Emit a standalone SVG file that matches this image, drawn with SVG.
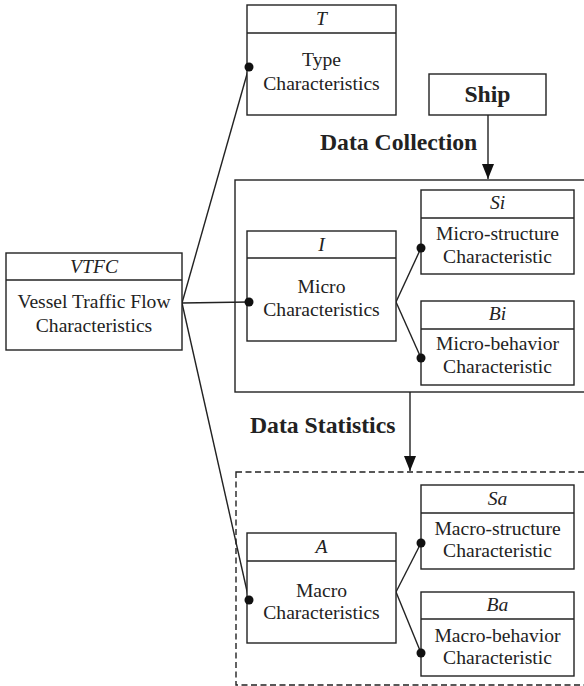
<svg xmlns="http://www.w3.org/2000/svg" width="584" height="686" viewBox="0 0 584 686">
<defs>
<style>
.box{fill:#fff;stroke:#222;stroke-width:1.4}
.ln{fill:none;stroke:#222;stroke-width:1.4}
.t{font-size:19.6px;fill:#222;text-anchor:middle}
.i{font-style:italic}
.b{font-size:23.7px;font-weight:bold;fill:#222}
.dot{fill:#111}
</style>
<marker id="arr" markerWidth="16" markerHeight="12" refX="15" refY="6" orient="auto" markerUnits="userSpaceOnUse" viewBox="0 0 16 12">
<path d="M0,0 L15,6 L0,12 Z" fill="#111"/>
</marker>
</defs>
<rect width="584" height="686" fill="#fff"/>

<g id="group-micro"><rect x="235" y="180" width="360" height="212" class="box"/></g>
<g id="group-macro"><rect x="236" y="472" width="360" height="213" class="box" stroke-dasharray="6 3.5"/></g>

<g id="connectors">
<line x1="182" y1="303" x2="249" y2="67" class="ln"/>
<line x1="182" y1="303" x2="249" y2="302" class="ln"/>
<line x1="182" y1="303" x2="249" y2="600" class="ln"/>
<line x1="396" y1="302" x2="421" y2="248" class="ln"/>
<line x1="396" y1="302" x2="421" y2="358" class="ln"/>
<line x1="396" y1="592" x2="421" y2="543" class="ln"/>
<line x1="396" y1="592" x2="421" y2="653" class="ln"/>
<line x1="488" y1="115" x2="488" y2="179" class="ln" marker-end="url(#arr)"/>
<line x1="410" y1="392" x2="410" y2="471" class="ln" marker-end="url(#arr)"/>
</g>

<g font-family="'Liberation Serif', 'DejaVu Serif', serif">
<g id="vtfc">
<rect x="6" y="253" width="176" height="97" class="box"/>
<line x1="6" y1="280" x2="182" y2="280" class="ln"/>
<text x="94" y="273" class="t i">VTFC</text>
<text x="94" y="308" class="t">Vessel Traffic Flow</text>
<text x="94" y="332" class="t">Characteristics</text>
</g>

<g id="type">
<rect x="247" y="5" width="149" height="110" class="box"/>
<line x1="247" y1="33" x2="396" y2="33" class="ln"/>
<text x="321.5" y="25" class="t i">T</text>
<text x="321.5" y="66" class="t">Type</text>
<text x="321.5" y="90" class="t">Characteristics</text>
</g>

<g id="ship">
<rect x="429" y="74" width="117" height="41" class="box"/>
<text x="487.5" y="102" class="b" text-anchor="middle">Ship</text>
</g>

<g id="labels">
<text x="320" y="150" class="b">Data Collection</text>
<text x="250" y="433" class="b">Data Statistics</text>
</g>

<g id="micro">
<rect x="247" y="231" width="149" height="110" class="box"/>
<line x1="247" y1="258" x2="396" y2="258" class="ln"/>
<text x="321.5" y="251" class="t i">I</text>
<text x="321.5" y="293" class="t">Micro</text>
<text x="321.5" y="316" class="t">Characteristics</text>
</g>

<g id="si">
<rect x="421" y="190" width="153" height="84" class="box"/>
<line x1="421" y1="218" x2="574" y2="218" class="ln"/>
<text x="497.5" y="209" class="t i">Si</text>
<text x="497.5" y="240" class="t">Micro-structure</text>
<text x="497.5" y="263" class="t">Characteristic</text>
</g>

<g id="bi">
<rect x="421" y="301" width="153" height="84" class="box"/>
<line x1="421" y1="329" x2="574" y2="329" class="ln"/>
<text x="497.5" y="320" class="t i">Bi</text>
<text x="497.5" y="350" class="t">Micro-behavior</text>
<text x="497.5" y="373" class="t">Characteristic</text>
</g>

<g id="macro">
<rect x="247" y="533" width="149" height="110" class="box"/>
<line x1="247" y1="561" x2="396" y2="561" class="ln"/>
<text x="321.5" y="553" class="t i">A</text>
<text x="321.5" y="597" class="t">Macro</text>
<text x="321.5" y="619" class="t">Characteristics</text>
</g>

<g id="sa">
<rect x="421" y="485" width="153" height="84" class="box"/>
<line x1="421" y1="513" x2="574" y2="513" class="ln"/>
<text x="497.5" y="505" class="t i">Sa</text>
<text x="497.5" y="535" class="t">Macro-structure</text>
<text x="497.5" y="557" class="t">Characteristic</text>
</g>

<g id="ba">
<rect x="421" y="592" width="153" height="84" class="box"/>
<line x1="421" y1="619" x2="574" y2="619" class="ln"/>
<text x="497.5" y="611" class="t i">Ba</text>
<text x="497.5" y="642" class="t">Macro-behavior</text>
<text x="497.5" y="664" class="t">Characteristic</text>
</g>
</g>

<g id="dots">
<circle cx="249" cy="67" r="4.5" class="dot"/>
<circle cx="249" cy="302" r="4.5" class="dot"/>
<circle cx="249" cy="600" r="4.5" class="dot"/>
<circle cx="421" cy="248" r="4.5" class="dot"/>
<circle cx="421" cy="358" r="4.5" class="dot"/>
<circle cx="421" cy="543" r="4.5" class="dot"/>
<circle cx="421" cy="653" r="4.5" class="dot"/>
</g>
</svg>
